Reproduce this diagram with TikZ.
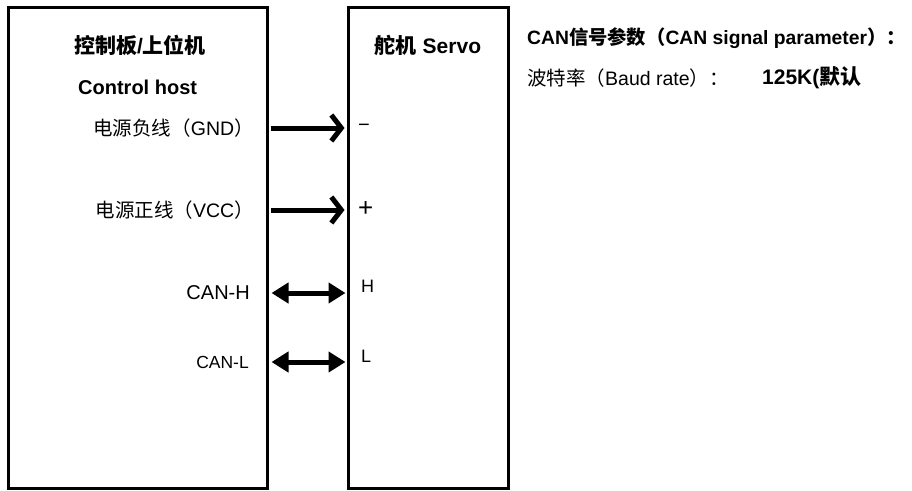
\documentclass[tikz,border=0pt]{standalone}
\usepackage{fontspec}
\setmainfont{Liberation Sans}
\newfontfamily\cjk{Noto Sans CJK SC}
\usetikzlibrary{arrows.meta}
\begin{document}
\begin{tikzpicture}[x=1pt,y=-1pt,
  boxst/.style={draw, line width=3pt, inner sep=0pt},
  lbl/.style={inner sep=0pt, font=\fontsize{19.5}{21}\selectfont},
  ttl/.style={inner sep=0pt, font=\fontsize{21}{23}\selectfont\bfseries},
  pwr/.style={line width=5pt, -{Straight Barb[length=10pt,width=26pt,line width=5pt]}, shorten >=2pt, shorten <=2pt},
  sig/.style={line width=5pt, {Triangle[length=17pt,width=20pt]}-{Triangle[length=17pt,width=20pt]}, shorten >=1pt, shorten <=3pt},
  pin/.style={inner sep=0pt, anchor=west, font=\fontsize{18}{20}\selectfont}]
\useasboundingbox (0,0) rectangle (912,490);
\node[boxst, minimum width=259pt, minimum height=481pt] (host) at (137.5,247.5) {};
\node[boxst, minimum width=160pt, minimum height=481pt] (servo) at (428,247.5) {};
\node[ttl] (t1) at (140,45) {{\cjk 控制板}/{\cjk 上位机}};
\node[ttl, font=\fontsize{20}{22}\selectfont\bfseries, anchor=west] (t2) at (78,87) {Control host};
\node[ttl] (t3) at (428,45) {{\cjk 舵机} Servo};
\node[lbl, anchor=east] (gnd) at (254,128) {{\cjk 电源负线（}GND{\cjk ）}};
\node[lbl, anchor=east] (vcc) at (254,210) {{\cjk 电源正线（}VCC{\cjk ）}};
\node[lbl, anchor=east, font=\fontsize{20}{22}\selectfont] (canh) at (250,293) {CAN-H};
\node[lbl, anchor=east, font=\fontsize{17.5}{19}\selectfont] (canl) at (249,362) {CAN-L};
\node[pin] (pm) at (358,128) {\fontsize{20}{22}\selectfont −};
\node[pin] (pp) at (358,209) {\fontsize{26}{28}\selectfont +};
\node[pin] (ph) at (361,286) {H};
\node[pin] (pl) at (361,356) {L};
\draw[pwr] (host.east |- gnd) -- (servo.west |- gnd);
\draw[pwr] (host.east |- vcc) -- (servo.west |- vcc);
\draw[sig] (host.east |- canh) -- (servo.west |- canh);
\draw[sig] (host.east |- canl) -- (servo.west |- canl);
\node[lbl, anchor=west, font=\fontsize{19.3}{21}\selectfont\bfseries] (p1) at (527,38) {CAN{\cjk 信号参数（}CAN signal parameter{\cjk ）：}};
\node[lbl, anchor=west, font=\fontsize{19.5}{21}\selectfont] (p2) at (527,78) {{\cjk 波特率（}Baud rate{\cjk ）：}};
\node[lbl, anchor=west, font=\fontsize{21}{23}\selectfont\bfseries] (p3) at (762,78) {125K({\cjk\bfseries 默认}};
\end{tikzpicture}
\end{document}
